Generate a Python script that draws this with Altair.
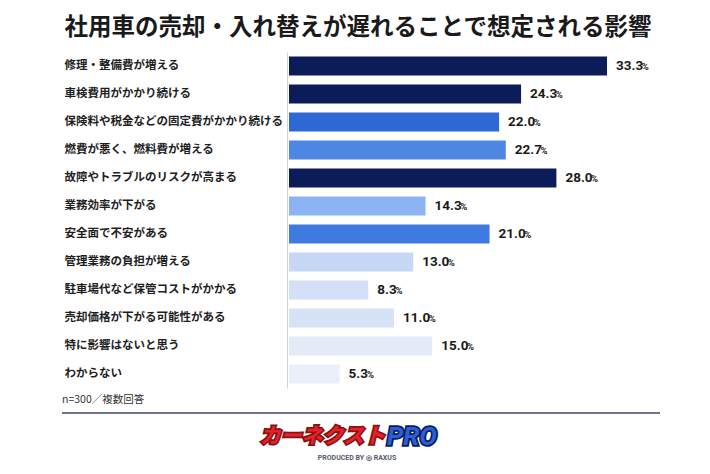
import altair as alt
import pandas as pd

categories = [
    "修理・整備費が増える",
    "車検費用がかかり続ける",
    "保険料や税金などの固定費がかかり続ける",
    "燃費が悪く、燃料費が増える",
    "故障やトラブルのリスクが高まる",
    "業務効率が下がる",
    "安全面で不安がある",
    "管理業務の負担が増える",
    "駐車場代など保管コストがかかる",
    "売却価格が下がる可能性がある",
    "特に影響はないと思う",
    "わからない",
]
values = [33.3, 24.3, 22.0, 22.7, 28.0, 14.3, 21.0, 13.0, 8.3, 11.0, 15.0, 5.3]
bar_colors = [
    "#0c1c58", "#0c1c58", "#2d68d4", "#4d86e3", "#0c1c58", "#8cb4f2",
    "#3e7ae0", "#c6d8f6", "#d3e0f7", "#d6e2f6", "#e4eaf8", "#ebeffa",
]
title_text = "社用車の売却・入れ替えが遅れることで想定される影響"
note_text = "n=300／複数回答"

PX_PER_UNIT = 382 / 40

df = pd.DataFrame({"cat": categories, "val": values, "color": bar_colors})
df["num"] = [f"{v:.1f}" for v in values]
# "%" sign sits just after the number text: shift by the number's rendered width
df["pct_x"] = [
    v + (9 + sum(7.4 if c.isdigit() else 3.5 for c in s)) / PX_PER_UNIT
    for v, s in zip(df["val"], df["num"])
]

y = alt.Y(
    "cat:N",
    sort=categories,
    scale=alt.Scale(paddingInner=0.32, paddingOuter=0.16),
    axis=alt.Axis(
        title=None,
        ticks=False,
        labelAlign="left",
        labelPadding=223,
        offset=2,
        labelFont="Noto Sans CJK JP",
        labelFontSize=11.5,
        labelFontWeight="bold",
        labelColor="#1e1e1e",
        labelLimit=300,
        domainColor="#d4d4d4",
        domainWidth=1,
    ),
)
xscale = alt.Scale(domain=[0, 40])
x = alt.X("val:Q", scale=xscale, axis=None)

base = alt.Chart(df)
bars = base.mark_bar().encode(x=x, y=y, color=alt.Color("color:N", scale=None))
nums = base.mark_text(
    align="left", baseline="middle", dx=9, font="Roboto", fontSize=13.5,
    fontWeight="bold", color="#1a1a1a"
).encode(x=x, y=y, text="num:N")
pcts = base.mark_text(
    align="left", baseline="middle", dy=1, font="Roboto", fontSize=9.5,
    fontWeight="bold", color="#1a1a1a"
).encode(x=alt.X("pct_x:Q", scale=xscale, axis=None), y=y, text=alt.value("%"))

deco = alt.Chart(pd.DataFrame({"k": [0]}))
note = deco.mark_text(
    align="left", baseline="middle", font="Noto Sans CJK JP", fontSize=10.5,
    color="#333333"
).encode(x=alt.value(-227), y=alt.value(348), text=alt.value(note_text))
sep = deco.mark_rule(color="#6e7391", strokeWidth=2).encode(
    x=alt.value(-227), x2=alt.value(371), y=alt.value(361)
)
logo_shadow = deco.mark_text(
    align="right", baseline="middle", font="Noto Sans CJK JP", fontSize=21,
    fontWeight="bold", fontStyle="italic", color="#ffffff", stroke="#8a1010",
    strokeWidth=3.5
).encode(x=alt.value(96), y=alt.value(385), text=alt.value("カーネクスト"))
logo = deco.mark_text(
    align="right", baseline="middle", font="Noto Sans CJK JP", fontSize=21,
    fontWeight="bold", fontStyle="italic", color="#e3232c"
).encode(x=alt.value(96), y=alt.value(385), text=alt.value("カーネクスト"))
pro_shadow = deco.mark_text(
    align="left", baseline="middle", font="Roboto", fontSize=26,
    fontWeight="bold", fontStyle="italic", color="#ffffff", stroke="#0c1c58",
    strokeWidth=3.5
).encode(x=alt.value(98), y=alt.value(385), text=alt.value("PRO"))
pro = deco.mark_text(
    align="left", baseline="middle", font="Roboto", fontSize=26,
    fontWeight="bold", fontStyle="italic", color="#2a5fd6"
).encode(x=alt.value(98), y=alt.value(385), text=alt.value("PRO"))
produced = deco.mark_text(
    align="center", baseline="middle", font="Roboto", fontSize=7,
    fontWeight="bold", color="#555a6e"
).encode(x=alt.value(68), y=alt.value(406), text=alt.value("PRODUCED BY  ◎ RAXUS"))

chart = (
    alt.layer(bars, nums, pcts, note, sep, logo_shadow, logo, pro_shadow, pro, produced)
    .properties(
        width=382,
        height=336,
        autosize=alt.AutoSizeParams(type="none"),
        padding={"left": 281, "top": 44, "right": 31, "bottom": 78},
        background="#ffffff",
        title=alt.TitleParams(
            title_text,
            anchor="middle",
            dx=-122,
            offset=13,
            font="Noto Sans CJK JP",
            fontSize=23.5,
            fontWeight="bold",
            color="#1a1a1a",
        ),
    )
    .configure_view(stroke=None)
)

chart.save("out.html", embed_options={"renderer": "svg", "actions": False})
